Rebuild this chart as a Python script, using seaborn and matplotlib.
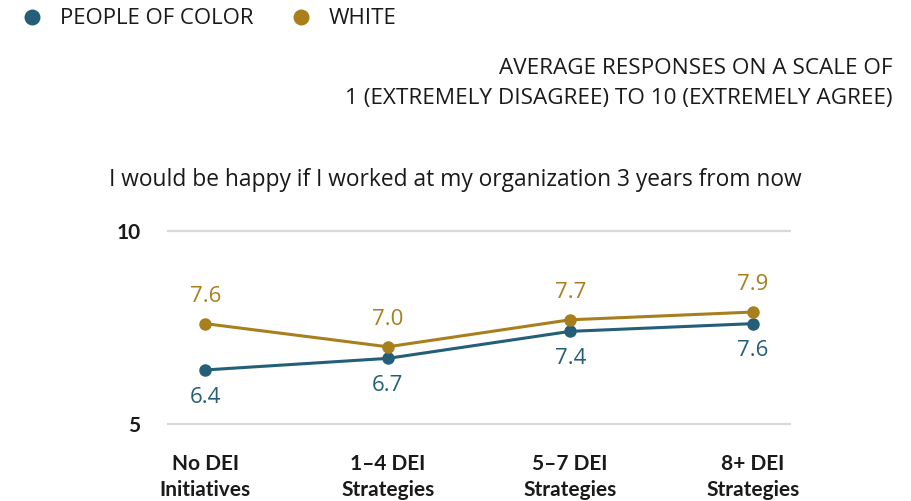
import numpy as np
import pandas as pd
import matplotlib
matplotlib.use("Agg")
import matplotlib.pyplot as plt
import seaborn as sns
from matplotlib.lines import Line2D

categories = ["No DEI\nInitiatives", "1–4 DEI\nStrategies", "5–7 DEI\nStrategies", "8+ DEI\nStrategies"]
poc_values = [6.4, 6.7, 7.4, 7.6]
white_values = [7.6, 7.0, 7.7, 7.9]
groups = ["PEOPLE OF COLOR", "WHITE"]
y_ticks = [5, 10]

POC_COLOR = "#245E78"
WHITE_COLOR = "#A97F1E"
TEXT_COLOR = "#1a1a1a"
palette = {"PEOPLE OF COLOR": POC_COLOR, "WHITE": WHITE_COLOR}

df = pd.DataFrame({
    "pos": list(range(len(categories))) * 2,
    "score": poc_values + white_values,
    "group": [groups[0]] * len(categories) + [groups[1]] * len(categories),
})

sns.set_theme(style="white")
plt.rcParams["font.family"] = ["Open Sans", "DejaVu Sans"]

fig = plt.figure(figsize=(9.12, 5.01), dpi=100)
# axes placed so that y=10 sits at 231px and y=5 at 424px
ax = fig.add_axes([167 / 912, 1 - 431.7 / 501, 624 / 912, (431.7 - 223.3) / 501])

sns.lineplot(data=df, x="pos", y="score", hue="group", palette=palette,
             marker="o", markersize=9, markeredgewidth=0, linewidth=2.2,
             legend=False, ax=ax, zorder=3)

ax.set_xlim(-0.21, 3.21)
ax.set_ylim(4.8, 10.2)
for v in y_ticks:
    ax.axhline(v, color="#d9d9d9", linewidth=1.6, zorder=1)
for s in ax.spines.values():
    s.set_visible(False)
ax.set_yticks(y_ticks)
ax.set_yticklabels([str(v) for v in y_ticks], fontsize=15, fontweight="bold",
                   color=TEXT_COLOR, family=["Lato", "DejaVu Sans"])
ax.tick_params(axis="y", length=0, pad=19)
ax.set_xticks(range(len(categories)))
ax.set_xticklabels(categories, fontsize=15, fontweight="bold", color=TEXT_COLOR,
                   linespacing=1.35, family=["Lato", "DejaVu Sans"])
ax.tick_params(axis="x", length=0, pad=16)
ax.set_xlabel("")
ax.set_ylabel("")
ax.grid(False)

for i, (p, w) in enumerate(zip(poc_values, white_values)):
    ax.annotate(f"{w:.1f}", (i, w), xytext=(0, 12), textcoords="offset points",
                ha="center", va="bottom", fontsize=16, fontweight="medium", color=WHITE_COLOR)
    ax.annotate(f"{p:.1f}", (i, p), xytext=(0, -12), textcoords="offset points",
                ha="center", va="top", fontsize=16, fontweight="medium", color=POC_COLOR)

handles = [Line2D([], [], marker="o", linestyle="", markersize=11.5,
                  markerfacecolor=palette[g], markeredgewidth=0) for g in groups]
fig.legend(handles, groups, loc="center left", bbox_to_anchor=(0.0, 1 - 19 / 501),
           ncol=2, frameon=False, fontsize=16, handletextpad=0.7, columnspacing=1.6,
           labelcolor=TEXT_COLOR, handlelength=1.1)

fig.text(893 / 912, 1 - 68 / 501, "AVERAGE RESPONSES ON A SCALE OF", ha="right",
         va="center", fontsize=16.2, color=TEXT_COLOR)
fig.text(893 / 912, 1 - 98 / 501, "1 (EXTREMELY DISAGREE) TO 10 (EXTREMELY AGREE)",
         ha="right", va="center", fontsize=16.2, color=TEXT_COLOR)
fig.text(455 / 912, 1 - 180 / 501, "I would be happy if I worked at my organization 3 years from now",
         ha="center", va="center", fontsize=16.4, color=TEXT_COLOR)

fig.savefig("out.png", dpi=100)
